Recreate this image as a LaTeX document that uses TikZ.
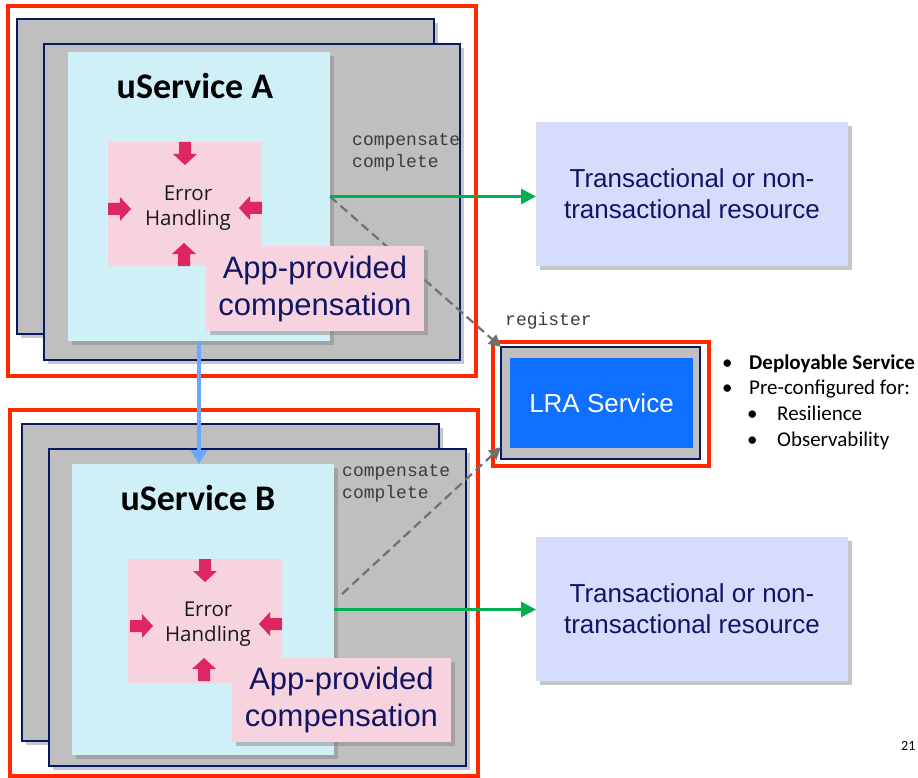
\documentclass[tikz,border=0pt]{standalone}
\usepackage{fontspec}
\setmainfont{Liberation Sans}
\setmonofont{Liberation Mono}
\newfontfamily\calfont{Carlito}
\newfontfamily\plexfont{Open Sans}
\usetikzlibrary{arrows.meta,shadows}

\definecolor{frameRed}{RGB}{255,40,0}
\definecolor{boxGray}{RGB}{191,191,191}
\definecolor{navyLine}{RGB}{10,25,100}
\definecolor{svcCyan}{RGB}{208,240,248}
\definecolor{errPink}{RGB}{247,211,224}
\definecolor{errMag}{RGB}{222,38,96}
\definecolor{resLav}{RGB}{214,220,252}
\definecolor{lraBlue}{RGB}{15,112,255}
\definecolor{callGreen}{RGB}{0,176,80}
\definecolor{flowBlue}{RGB}{106,168,255}
\definecolor{regGray}{RGB}{112,112,112}
\definecolor{txtNavy}{RGB}{18,20,100}
\definecolor{monoGray}{RGB}{60,60,60}

\tikzset{
  base/.style={inner sep=0pt, outer sep=0pt, anchor=north west},
  shade/.style={drop shadow={opacity=.45, shadow xshift=4pt, shadow yshift=-4pt}},
  redframe/.style={base, draw=frameRed, line width=3.5pt},
  graybox/.style={base, fill=boxGray, draw=navyLine, line width=1.3pt, shade},
  svcbox/.style={base, fill=svcCyan, shade},
  errbox/.style={base, fill=errPink},
  appbox/.style={base, fill=errPink, shade, text=txtNavy, align=center,
    font=\fontsize{31}{37}\selectfont},
  resbox/.style={base, fill=resLav, shade, text=txtNavy, align=center,
    font=\fontsize{26}{31}\selectfont},
  svctitle/.style={font=\calfont\bfseries\fontsize{36}{40}\selectfont},
  errtext/.style={align=center, text=black!90, font=\plexfont\fontsize{20.5}{25}\selectfont},
  monolabel/.style={anchor=base west, inner sep=0pt, align=left, text=monoGray,
    font=\ttfamily\fontsize{18}{22}\selectfont},
  bullet/.style={anchor=base west, inner sep=0pt, font=\calfont\fontsize{21}{25}\selectfont},
  callarrow/.style={draw=callGreen, line width=3pt, -{Triangle[length=15pt,width=15pt]}},
  regarrow/.style={draw=regGray, line width=2.2pt, dash pattern=on 9pt off 5pt,
    -{Triangle[length=12pt,width=12pt]}},
  flowarrow/.style={draw=flowBlue, line width=4.5pt, -{Triangle[length=14pt,width=16pt]}},
  pics/errarrow/.style={code={
    \fill[errMag] (-6,0) -- (6,0) -- (6,12) -- (12,12) -- (0,23) -- (-12,12) -- (-6,12) -- cycle;}}
}

\begin{document}
\begin{tikzpicture}[x=1pt, y=-1pt]
\useasboundingbox (0,0) rectangle (918,778);

% LRA service
\node[redframe, minimum width=216pt, minimum height=124pt] (lraFrame) at (493,342) {};
\node[base, fill=boxGray, draw=navyLine, line width=1.3pt, minimum width=199pt, minimum height=112pt] (lraGray) at (501,347) {};
\node[base, fill=lraBlue, text=white, font=\fontsize{26}{30}\selectfont, minimum width=183pt, minimum height=90pt] (lra) at (510,358) {LRA Service};
\node[monolabel] (reg) at (505,325) {register};

% resources
\node[resbox, minimum width=312pt, minimum height=144pt] (resA) at (536,122) {Transactional or non-\\transactional resource};
\node[resbox, minimum width=312pt, minimum height=144pt] (resB) at (536,537) {Transactional or non-\\transactional resource};

% uService A
\node[redframe, minimum width=468pt, minimum height=370pt] (frameA) at (8,6) {};
\node[graybox, minimum width=417pt, minimum height=315pt] (backA) at (17,19) {};
\node[graybox, minimum width=416pt, minimum height=316pt] (frontA) at (44,44) {};
\node[svcbox, minimum width=262pt, minimum height=289pt] (cyanA) at (68,52) {};
\node[svctitle] (titleA) at (195,86) {uService A};
\node[monolabel] (cmpA) at (352,168) {compensate\\complete};
\draw[regarrow] (cyanA.east) -- (lraGray.north west);
\node[errbox, minimum width=154pt, minimum height=124pt] (errA) at (108,142) {};
\pic at (185,142) {errarrow};
\pic[rotate=90] at (108,209) {errarrow};
\pic[rotate=-90] at (262,208) {errarrow};
\pic[rotate=180] at (184,266) {errarrow};
\node[errtext] (errAtxt) at (188,208) {Error\\Handling};
\node[appbox, minimum width=218pt, minimum height=85pt] (appA) at (206,246) {App-provided\\compensation};
\draw[callarrow] (cyanA.east) -- (cyanA.east -| resA.west);

% uService B
\node[redframe, minimum width=468pt, minimum height=366pt] (frameB) at (10,410) {};
\node[graybox, minimum width=417pt, minimum height=317pt] (backB) at (22,424) {};
\node[graybox, minimum width=417pt, minimum height=317pt] (frontB) at (49,449) {};
\node[svcbox, minimum width=262pt, minimum height=291pt] (cyanB) at (72,464) {};
\node[svctitle] (titleB) at (198,498) {uService B};
\node[monolabel] (cmpB) at (342,498) {compensate\\complete};
\coordinate (regB) at (342,594);
\draw[regarrow] (regB) -- ([yshift=12pt]lraGray.south west);
\node[errbox, minimum width=154pt, minimum height=124pt] (errB) at (128,559) {};
\pic at (205,559) {errarrow};
\pic[rotate=90] at (130,626) {errarrow};
\pic[rotate=-90] at (282,624) {errarrow};
\pic[rotate=180] at (204,681) {errarrow};
\node[errtext] (errBtxt) at (208,624) {Error\\Handling};
\node[appbox, minimum width=219pt, minimum height=84pt] (appB) at (232,658) {App-provided\\compensation};
\draw[callarrow] (cyanB.east) -- (cyanB.east -| resB.west);

% A calls B
\draw[flowarrow] (cyanA.south) -- (cyanA.south |- cyanB.north);

% notes
\node[bullet] (b1) at (722,369) {•};
\node[bullet, font=\calfont\bfseries\fontsize{21}{25}\selectfont] (n1) at (749,369) {Deployable Service};
\node[bullet] (b2) at (722,394) {•};
\node[bullet] (n2) at (749,394) {Pre-configured for:};
\node[bullet] (b3) at (747,420) {•};
\node[bullet] (n3) at (777,420) {Resilience};
\node[bullet] (b4) at (747,446) {•};
\node[bullet] (n4) at (777,446) {Observability};
\node[bullet, font=\calfont\fontsize{14}{16}\selectfont] (page) at (901,750) {21};
\end{tikzpicture}
\end{document}
